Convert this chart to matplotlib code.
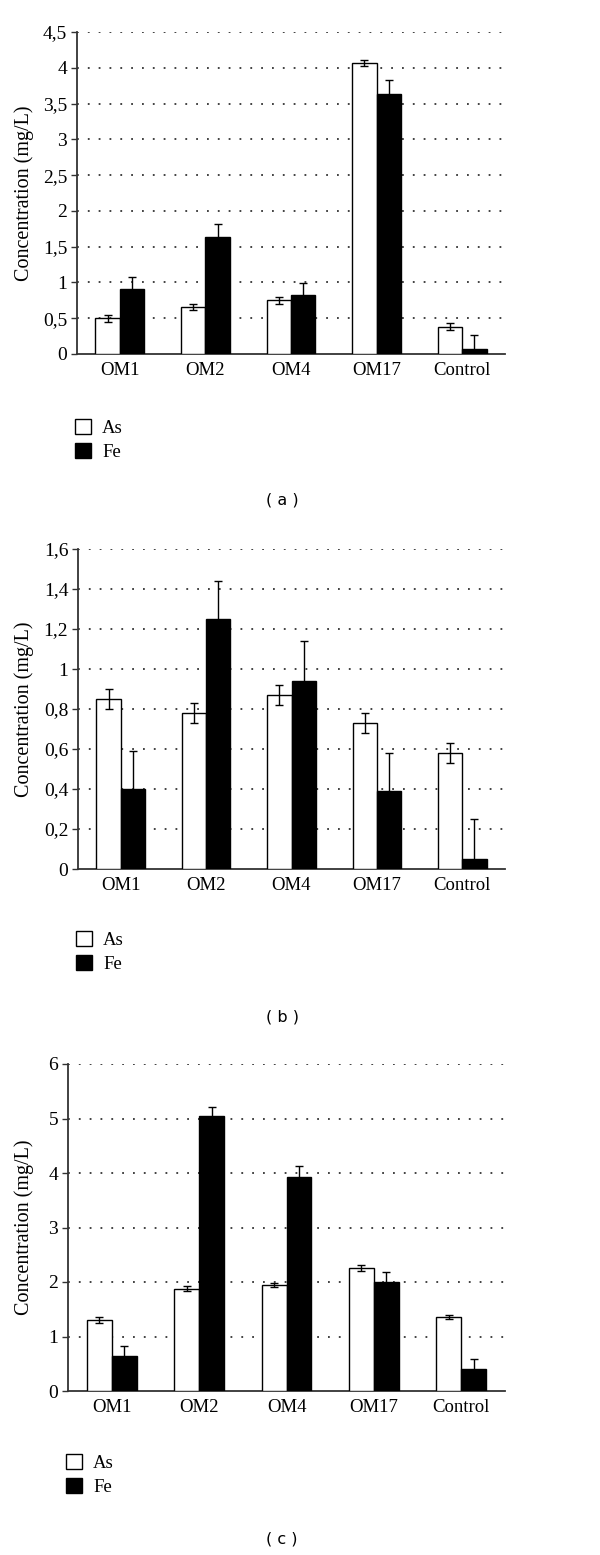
import numpy as np
import matplotlib
matplotlib.use('Agg')
import matplotlib.pyplot as plt
from matplotlib.patches import Patch

plt.rcParams['font.family'] = ['Liberation Serif', 'DejaVu Serif']

# ========== DATA ==========

categories = ["OM1", "OM2", "OM4", "OM17", "Control"]
series_names = ["As", "Fe"]

as_a = [0.50, 0.66, 0.75, 4.07, 0.38]
as_a_err = [0.05, 0.04, 0.05, 0.04, 0.05]
fe_a = [0.91, 1.63, 0.82, 3.64, 0.07]
fe_a_err = [0.17, 0.19, 0.17, 0.19, 0.19]

as_b = [0.85, 0.78, 0.87, 0.73, 0.58]
as_b_err = [0.05, 0.05, 0.05, 0.05, 0.05]
fe_b = [0.40, 1.25, 0.94, 0.39, 0.05]
fe_b_err = [0.19, 0.19, 0.20, 0.19, 0.20]

as_c = [1.30, 1.88, 1.94, 2.26, 1.36]
as_c_err = [0.05, 0.05, 0.04, 0.05, 0.04]
fe_c = [0.65, 5.05, 3.92, 2.00, 0.41]
fe_c_err = [0.17, 0.17, 0.20, 0.18, 0.17]

ticks_a = [0, 0.5, 1, 1.5, 2, 2.5, 3, 3.5, 4, 4.5]
ticklabels_a = ["0", "0,5", "1", "1,5", "2", "2,5", "3", "3,5", "4", "4,5"]
ticks_b = [0, 0.2, 0.4, 0.6, 0.8, 1.0, 1.2, 1.4, 1.6]
ticklabels_b = ["0", "0,2", "0,4", "0,6", "0,8", "1", "1,2", "1,4", "1,6"]
ticks_c = [0, 1, 2, 3, 4, 5, 6]
ticklabels_c = ["0", "1", "2", "3", "4", "5", "6"]

captions = ["( a )", "( b )", "( c )"]

# ========== FIGURE ==========

W, H = 600, 1555
fig = plt.figure(figsize=(W / 100, H / 100), dpi=100)


def px_axes(left, top, right, bottom):
    return fig.add_axes([left / W, 1 - bottom / H, (right - left) / W, (bottom - top) / H])


def panel(box, as_vals, as_err, fe_vals, fe_err, ticks, ticklabels, label_x,
          legend_xy, caption_xy, caption):
    ax = px_axes(*box)
    x = np.arange(len(categories))
    w = 0.285
    ax.bar(x - w / 2, as_vals, w, color='white', edgecolor='black', linewidth=1.0, zorder=3)
    ax.bar(x + w / 2, fe_vals, w, color='black', edgecolor='black', linewidth=1.0, zorder=3)
    ax.errorbar(x - w / 2, as_vals, yerr=as_err, fmt='none', ecolor='black',
                elinewidth=1.0, capsize=3, capthick=1.0, zorder=4)
    ax.errorbar(x + w / 2, fe_vals, yerr=fe_err, fmt='none', ecolor='black',
                elinewidth=1.0, capsize=3, capthick=1.0, zorder=4)

    ax.set_xlim(-0.5, len(categories) - 0.5)
    ax.set_ylim(0, ticks[-1])
    ax.set_yticks(ticks)
    ax.set_yticklabels(ticklabels, fontsize=14)
    ax.set_xticks(x)
    ax.set_xticklabels(categories, fontsize=13.5)
    ax.tick_params(axis='x', length=0, pad=6)
    ax.tick_params(axis='y', length=4, width=1.0, pad=3, color='#333333')

    for t in ticks[1:]:
        ax.axhline(t, color='#333333', linestyle=(0, (1, 5)), linewidth=1.3, zorder=1)

    for s in ['top', 'right']:
        ax.spines[s].set_visible(False)
    for s in ['left', 'bottom']:
        ax.spines[s].set_linewidth(1.3)
        ax.spines[s].set_color('#333333')

    ax.set_ylabel("Concentration (mg/L)", fontsize=14.5)
    ax.yaxis.set_label_coords(label_x, 0.5)

    handles = [Patch(facecolor='white', edgecolor='black', linewidth=1.0),
               Patch(facecolor='black', edgecolor='black', linewidth=1.0)]
    fig.legend(handles, series_names, loc='upper left',
               bbox_to_anchor=(legend_xy[0] / W, 1 - legend_xy[1] / H),
               frameon=False, fontsize=13.5, handlelength=0.85, handleheight=0.85,
               handletextpad=0.6, labelspacing=0.3, borderpad=0, borderaxespad=0)

    fig.text(caption_xy[0] / W, 1 - caption_xy[1] / H, caption, family='DejaVu Sans',
             fontsize=11.5, ha='center', va='center')
    return ax


panel((77, 32, 505, 354), as_a, as_a_err, fe_a, fe_a_err, ticks_a, ticklabels_a,
      -0.100, (75, 419), (282, 500), captions[0])
panel((78, 549, 505, 869), as_b, as_b_err, fe_b, fe_b_err, ticks_b, ticklabels_b,
      -0.103, (76, 931), (282, 1017), captions[1])
panel((68, 1064, 505, 1391), as_c, as_c_err, fe_c, fe_c_err, ticks_c, ticklabels_c,
      -0.078, (66, 1454), (282, 1539), captions[2])

plt.savefig('out.png', dpi=100)
plt.close(fig)
